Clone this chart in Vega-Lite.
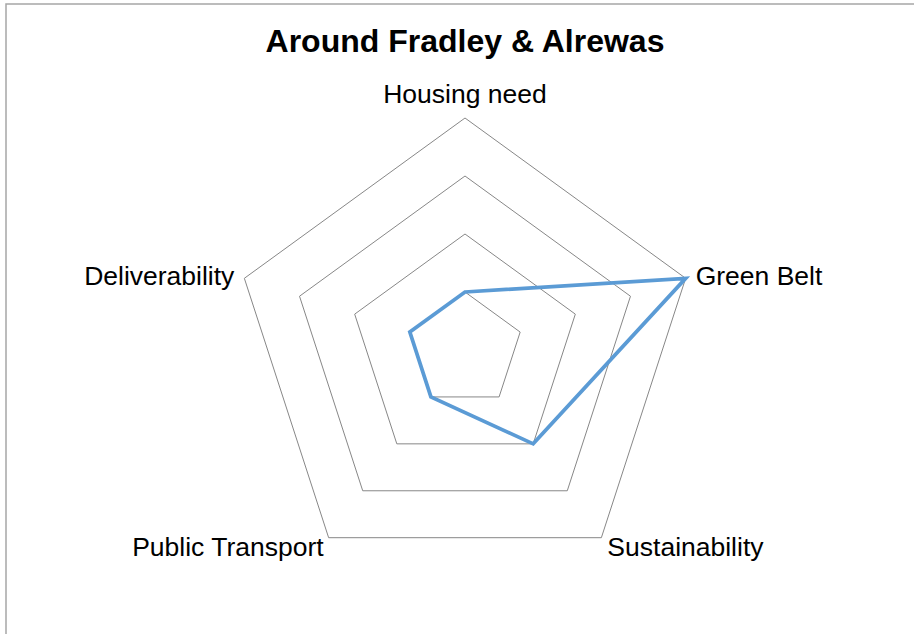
{
  "$schema": "https://vega.github.io/schema/vega-lite/v6.json",
  "width": 912,
  "height": 634,
  "autosize": "none",
  "padding": {"left": 6, "top": 4, "right": 0, "bottom": 0},
  "background": "white",
  "config": {"view": {"stroke": "#A6A6A6", "strokeWidth": 1.5}, "font": "Liberation Sans"},
  "title": {"text": "Around Fradley & Alrewas", "font": "Liberation Sans", "fontSize": 32, "fontWeight": "bold", "color": "#000000", "anchor": "middle", "frame": "group", "baseline": "alphabetic", "offset": -50, "dx": 3, "dy": 30},
  "datasets": {
    "scores": [
      {"category": "Housing need", "idx": 0, "value": 1},
      {"category": "Green Belt", "idx": 1, "value": 4},
      {"category": "Sustainability", "idx": 2, "value": 2},
      {"category": "Public Transport", "idx": 3, "value": 1},
      {"category": "Deliverability", "idx": 4, "value": 1}
    ],
    "grid": [
      {"level": 1, "idx": 0}, {"level": 1, "idx": 1}, {"level": 1, "idx": 2}, {"level": 1, "idx": 3}, {"level": 1, "idx": 4},
      {"level": 2, "idx": 0}, {"level": 2, "idx": 1}, {"level": 2, "idx": 2}, {"level": 2, "idx": 3}, {"level": 2, "idx": 4},
      {"level": 3, "idx": 0}, {"level": 3, "idx": 1}, {"level": 3, "idx": 2}, {"level": 3, "idx": 3}, {"level": 3, "idx": 4},
      {"level": 4, "idx": 0}, {"level": 4, "idx": 1}, {"level": 4, "idx": 2}, {"level": 4, "idx": 3}, {"level": 4, "idx": 4}
    ]
  },
  "resolve": {"scale": {"x": "shared", "y": "shared"}},
  "layer": [
    {
      "data": {"name": "grid"},
      "transform": [
        {"calculate": "datum.idx*2*PI/5", "as": "ang"},
        {"calculate": "datum.level*sin(datum.ang)", "as": "px"},
        {"calculate": "datum.level*cos(datum.ang)", "as": "py"}
      ],
      "mark": {"type": "line", "interpolate": "linear-closed", "stroke": "#878787", "strokeWidth": 1},
      "encoding": {
        "x": {"field": "px", "type": "quantitative", "scale": {"domain": [-7.91379, 7.81034], "nice": false, "zero": false}, "axis": null},
        "y": {"field": "py", "type": "quantitative", "scale": {"domain": [-4.96552, 5.96552], "nice": false, "zero": false}, "axis": null},
        "detail": {"field": "level", "type": "nominal"},
        "order": {"field": "idx", "type": "quantitative"}
      }
    },
    {
      "data": {"name": "scores"},
      "transform": [
        {"calculate": "datum.idx*2*PI/5", "as": "ang"},
        {"calculate": "datum.value*sin(datum.ang)", "as": "px"},
        {"calculate": "datum.value*cos(datum.ang)", "as": "py"}
      ],
      "mark": {"type": "line", "interpolate": "linear-closed", "stroke": "#5B9BD5", "strokeWidth": 3.75, "strokeJoin": "miter"},
      "encoding": {
        "x": {"field": "px", "type": "quantitative"},
        "y": {"field": "py", "type": "quantitative"},
        "order": {"field": "idx", "type": "quantitative"}
      }
    },
    {
      "data": {"name": "scores"},
      "transform": [
        {"filter": "datum.idx == 0"},
        {"calculate": "datum.idx*2*PI/5", "as": "ang"},
        {"calculate": "4*sin(datum.ang)", "as": "px"},
        {"calculate": "4*cos(datum.ang)", "as": "py"}
      ],
      "mark": {"type": "text", "align": "center", "baseline": "alphabetic", "dy": -15, "fontSize": 26.5, "font": "Liberation Sans", "color": "#000000"},
      "encoding": {"x": {"field": "px", "type": "quantitative"}, "y": {"field": "py", "type": "quantitative"}, "text": {"field": "category"}}
    },
    {
      "data": {"name": "scores"},
      "transform": [
        {"filter": "datum.idx == 1"},
        {"calculate": "datum.idx*2*PI/5", "as": "ang"},
        {"calculate": "4*sin(datum.ang)", "as": "px"},
        {"calculate": "4*cos(datum.ang)", "as": "py"}
      ],
      "mark": {"type": "text", "align": "left", "baseline": "alphabetic", "dx": 10, "dy": 7, "fontSize": 26.5, "font": "Liberation Sans", "color": "#000000"},
      "encoding": {"x": {"field": "px", "type": "quantitative"}, "y": {"field": "py", "type": "quantitative"}, "text": {"field": "category"}}
    },
    {
      "data": {"name": "scores"},
      "transform": [
        {"filter": "datum.idx == 2"},
        {"calculate": "datum.idx*2*PI/5", "as": "ang"},
        {"calculate": "4*sin(datum.ang)", "as": "px"},
        {"calculate": "4*cos(datum.ang)", "as": "py"}
      ],
      "mark": {"type": "text", "align": "left", "baseline": "alphabetic", "dx": 6, "dy": 18, "fontSize": 26.5, "font": "Liberation Sans", "color": "#000000"},
      "encoding": {"x": {"field": "px", "type": "quantitative"}, "y": {"field": "py", "type": "quantitative"}, "text": {"field": "category"}}
    },
    {
      "data": {"name": "scores"},
      "transform": [
        {"filter": "datum.idx == 3"},
        {"calculate": "datum.idx*2*PI/5", "as": "ang"},
        {"calculate": "4*sin(datum.ang)", "as": "px"},
        {"calculate": "4*cos(datum.ang)", "as": "py"}
      ],
      "mark": {"type": "text", "align": "right", "baseline": "alphabetic", "dx": -5, "dy": 18, "fontSize": 26.5, "font": "Liberation Sans", "color": "#000000"},
      "encoding": {"x": {"field": "px", "type": "quantitative"}, "y": {"field": "py", "type": "quantitative"}, "text": {"field": "category"}}
    },
    {
      "data": {"name": "scores"},
      "transform": [
        {"filter": "datum.idx == 4"},
        {"calculate": "datum.idx*2*PI/5", "as": "ang"},
        {"calculate": "4*sin(datum.ang)", "as": "px"},
        {"calculate": "4*cos(datum.ang)", "as": "py"}
      ],
      "mark": {"type": "text", "align": "right", "baseline": "alphabetic", "dx": -10, "dy": 7, "fontSize": 26.5, "font": "Liberation Sans", "color": "#000000"},
      "encoding": {"x": {"field": "px", "type": "quantitative"}, "y": {"field": "py", "type": "quantitative"}, "text": {"field": "category"}}
    }
  ]
}
